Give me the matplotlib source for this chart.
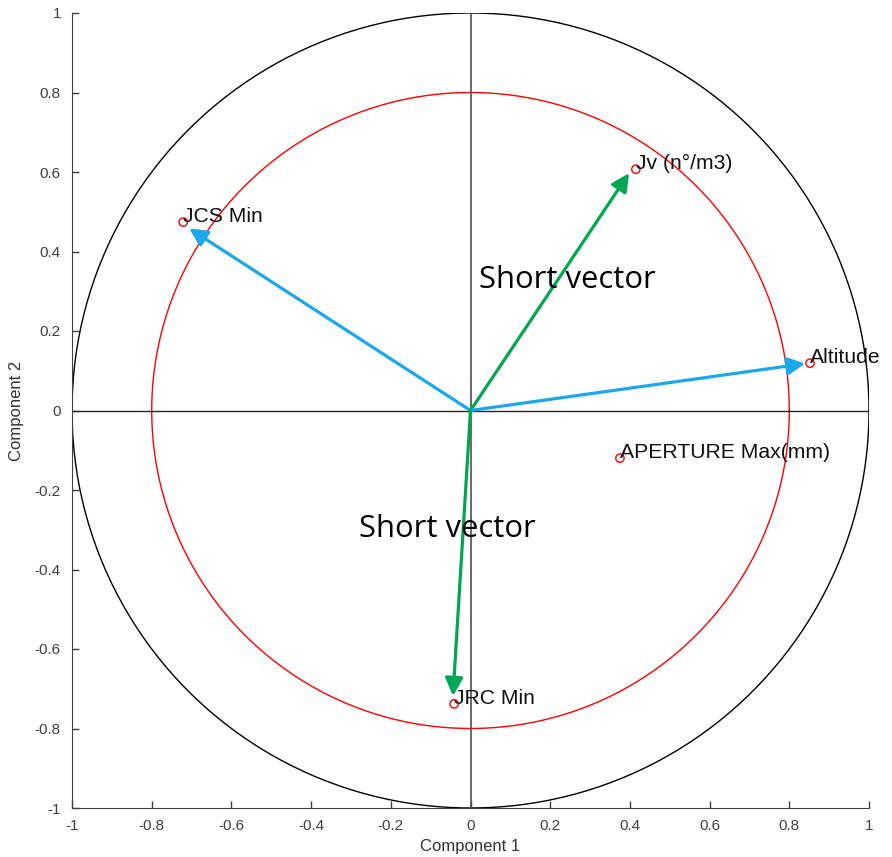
import numpy as np
import matplotlib.pyplot as plt

# variable loadings on the first two components
variables = ['JCS Min', 'Jv (n°/m3)', 'Altitude', 'APERTURE Max(mm)', 'JRC Min']
comp1 = [-0.721, 0.415, 0.852, 0.375, -0.041]
comp2 = [0.474, 0.607, 0.119, -0.120, -0.738]

# arrows drawn over the loading plot
arrow_x = [-0.706, 0.398, 0.840, -0.044]
arrow_y = [0.458, 0.597, 0.118, -0.718]
arrow_colors = ['#1aa7ec', '#00a651', '#1aa7ec', '#00a651']

notes = ['Short vector', 'Short vector']
note_x = [0.021, -0.28]
note_y = [0.308, -0.318]

ticks = [-1, -0.8, -0.6, -0.4, -0.2, 0, 0.2, 0.4, 0.6, 0.8, 1]
tick_labels = ['-1', '-0.8', '-0.6', '-0.4', '-0.2', '0', '0.2', '0.4', '0.6', '0.8', '1']

plt.rcParams['font.family'] = ['Liberation Sans', 'DejaVu Sans']

fig = plt.figure(figsize=(8.92, 8.57), dpi=100)
ax = fig.add_axes([72 / 892, 49 / 857, 797 / 892, 795 / 857])

t = np.linspace(0, 2 * np.pi, 400)
ax.plot(np.cos(t), np.sin(t), color='black', lw=1)
ax.plot(0.8 * np.cos(t), 0.8 * np.sin(t), color='red', lw=1)
ax.plot([-1, 1], [0, 0], color='#262626', lw=1)
ax.plot([0, 0], [-1, 1], color='#505050', lw=1.2)

ax.scatter(comp1, comp2, s=36, facecolors='none', edgecolors='red', linewidths=1, zorder=4)
for name, x, y in zip(variables, comp1, comp2):
    ax.text(x, y, name, fontsize=15.2, color='#111111', ha='left', va='baseline', zorder=5)

for x, y, c in zip(arrow_x, arrow_y, arrow_colors):
    ax.annotate('', xy=(x, y), xytext=(0, 0),
                arrowprops=dict(arrowstyle='-|>', color=c, lw=2.3, mutation_scale=27,
                                shrinkA=0, shrinkB=0), zorder=6)

for s, x, y in zip(notes, note_x, note_y):
    ax.text(x, y, s, fontsize=22.3, family='Open Sans', color='black', ha='left', va='baseline', zorder=7)

ax.set_xlim(-1, 1)
ax.set_ylim(-1, 1)
ax.set_xticks(ticks)
ax.set_xticklabels(tick_labels)
ax.set_yticks(ticks)
ax.set_yticklabels(tick_labels)
ax.tick_params(direction='in', length=5, width=1, colors='#404040', labelsize=11, pad=8)
ax.spines['top'].set_visible(False)
ax.spines['right'].set_visible(False)
for sp in ['left', 'bottom']:
    ax.spines[sp].set_color('#404040')
ax.set_xlabel('Component 1', fontsize=12, color='#333333', labelpad=4)
ax.set_ylabel('Component 2', fontsize=12, color='#333333', labelpad=8)

plt.savefig('out.png', dpi=100)
